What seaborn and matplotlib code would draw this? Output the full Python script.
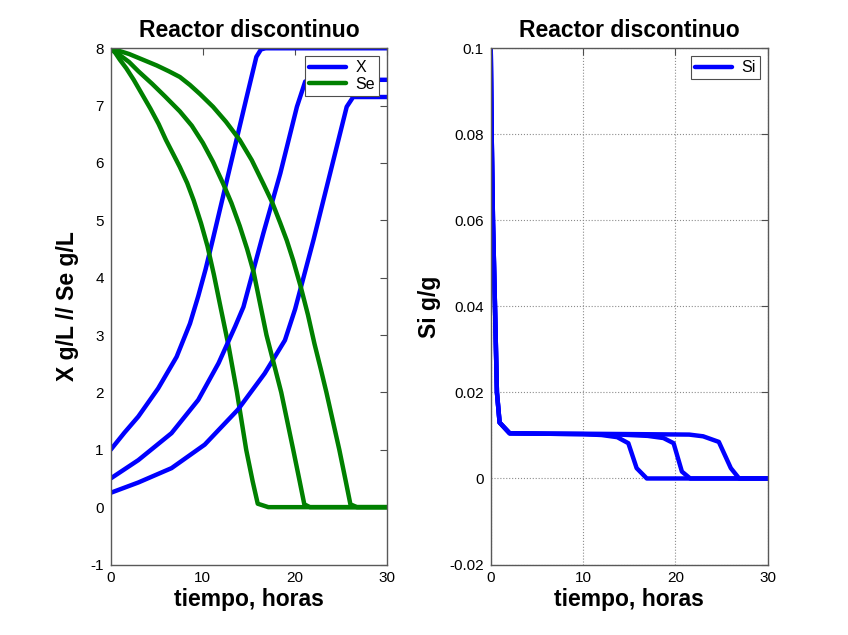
import numpy as np
import pandas as pd
import matplotlib
matplotlib.use('Agg')
import matplotlib.pyplot as plt
import seaborn as sns

sns.set_style('white')
plt.rcParams['font.family'] = ['Liberation Sans', 'DejaVu Sans']
plt.rcParams['text.color'] = 'black'
plt.rcParams['axes.labelcolor'] = 'black'
plt.rcParams['xtick.color'] = 'black'
plt.rcParams['ytick.color'] = 'black'

# biomass X (g/L), three batch runs
t_x1 = [0, 1.5, 3.0, 5.15, 7.15, 8.6, 9.5, 10.3, 11.1, 12.9, 14.75, 15.8, 16.3, 16.8, 30]
x1 = [1.0, 1.3, 1.58, 2.07, 2.62, 3.2, 3.68, 4.15, 4.68, 5.9, 7.15, 7.85, 7.98, 8.0, 8.0]
t_x2 = [0, 3.0, 6.6, 9.5, 11.7, 13.5, 14.4, 16.55, 18.4, 20.2, 21.1, 21.6, 30]
x2 = [0.5, 0.82, 1.29, 1.87, 2.51, 3.15, 3.49, 4.77, 5.82, 6.98, 7.42, 7.45, 7.45]
t_x3 = [0, 3.0, 6.6, 10.2, 13.8, 16.7, 18.9, 20.0, 22.0, 23.8, 25.6, 26.3, 30]
x3 = [0.25, 0.43, 0.68, 1.09, 1.70, 2.33, 2.91, 3.45, 4.66, 5.82, 6.98, 7.15, 7.15]

# substrate Se (g/L)
t_se1 = [0, 0.5, 1.0, 1.7, 2.5, 3.4, 4.3, 5.2, 6.0, 6.8, 7.5, 8.3, 9.0, 9.8,
         10.5, 11.2, 11.9, 12.8, 13.7, 14.7, 15.4, 15.95, 17.1, 30]
se1 = [8.0, 7.92, 7.8, 7.65, 7.45, 7.2, 6.95, 6.68, 6.4, 6.15, 5.93, 5.65, 5.35,
       4.95, 4.55, 4.05, 3.5, 2.8, 2.0, 1.0, 0.45, 0.06, 0.0, 0.0]
t_se2 = [0, 1.0, 2.0, 3.0, 4.5, 5.9, 7.5, 8.8, 10.0, 11.1, 12.2, 13.1, 14.0,
         14.8, 15.5, 16.2, 16.9, 17.7, 18.5, 19.8, 20.5, 21.0, 21.6, 30]
se2 = [8.0, 7.88, 7.76, 7.6, 7.38, 7.16, 6.9, 6.65, 6.35, 6.02, 5.64, 5.3, 4.9,
       4.5, 4.1, 3.55, 3.0, 2.5, 2.0, 1.0, 0.45, 0.05, 0.0, 0.0]
t_se3 = [0, 2.0, 3.5, 5.0, 6.3, 7.5, 8.6, 9.7, 11.1, 12.5, 14.0, 15.3, 16.55,
         17.5, 18.4, 19.1, 19.8, 20.6, 21.4, 22.1, 22.8, 23.4, 24.1, 24.8,
         25.5, 26.0, 26.7, 30]
se3 = [8.0, 7.9, 7.8, 7.7, 7.6, 7.5, 7.36, 7.2, 6.98, 6.72, 6.4, 6.05, 5.64,
       5.32, 4.95, 4.65, 4.3, 3.85, 3.35, 2.85, 2.4, 2.0, 1.5, 1.0,
       0.45, 0.05, 0.0, 0.0]

# intracellular Si (g/g)
t_si1 = [0, 0.1, 0.24, 0.46, 0.67, 0.96, 2.05, 6, 10, 12, 13.7, 14.9, 15.8, 16.9, 30]
si1 = [0.1, 0.08, 0.06, 0.04, 0.02, 0.013, 0.0105, 0.0104, 0.0103, 0.0101,
       0.0096, 0.0082, 0.0024, 0.0, 0.0]
t_si2 = [0, 0.1, 0.24, 0.46, 0.67, 0.96, 2.05, 6, 10, 14, 17, 18.7, 19.8, 20.7, 21.6, 30]
si2 = [0.1, 0.08, 0.06, 0.04, 0.02, 0.013, 0.0105, 0.0104, 0.0103, 0.0102,
       0.0099, 0.0094, 0.0082, 0.0016, 0.0, 0.0]
t_si3 = [0, 0.1, 0.24, 0.46, 0.67, 0.96, 2.05, 6, 10, 16, 21.5, 23.0, 24.7, 26.0, 26.9, 30]
si3 = [0.1, 0.08, 0.06, 0.04, 0.02, 0.013, 0.0105, 0.0104, 0.0104, 0.0103,
       0.0102, 0.0098, 0.0085, 0.0024, 0.0, 0.0]

left_yticks = [-1, 0, 1, 2, 3, 4, 5, 6, 7, 8]
right_yticks = [-0.02, 0, 0.02, 0.04, 0.06, 0.08, 0.1]
right_ylabels = ['-0.02', '0', '0.02', '0.04', '0.06', '0.08', '0.1']
xticks = [0, 10, 20, 30]

BLUE = (0, 0, 1)
GREEN = (0, 0.5, 0)
LW = 3.2
BIG = 16.5

fig = plt.figure(figsize=(8.48, 6.35), dpi=100)
ax1 = fig.add_axes([0.1305, 0.111, 0.3262, 0.813])
ax2 = fig.add_axes([0.5787, 0.111, 0.3267, 0.813])


def curve(ax, t, y, color, label=None):
    sns.lineplot(x=t, y=y, ax=ax, color=color, lw=LW, sort=False,
                 estimator=None, label=label, legend=False)


curve(ax1, t_x1, x1, BLUE, 'X')
curve(ax1, t_se1, se1, GREEN, 'Se')
curve(ax1, t_x2, x2, BLUE)
curve(ax1, t_x3, x3, BLUE)
curve(ax1, t_se2, se2, GREEN)
curve(ax1, t_se3, se3, GREEN)

curve(ax2, t_si1, si1, BLUE, 'Si')
curve(ax2, t_si2, si2, BLUE)
curve(ax2, t_si3, si3, BLUE)

for ax in (ax1, ax2):
    ax.set_xlim(0, 30)
    ax.set_xticks(xticks)
    ax.set_xticklabels([str(v) for v in xticks])
    ax.tick_params(direction='in', top=True, right=True, length=5,
                   labelsize=11, pad=5)
    ax.tick_params(color='0.3')
    for s in ax.spines.values():
        s.set_color('0.35')
        s.set_linewidth(1)
    ax.set_title('Reactor discontinuo', fontsize=BIG, fontweight='bold', pad=8)
    ax.set_xlabel('tiempo, horas', fontsize=BIG, fontweight='bold', labelpad=2)

ax1.set_ylim(-1, 8)
ax1.set_yticks(left_yticks)
ax1.set_yticklabels([str(v) for v in left_yticks])
ax1.set_ylabel('X g/L // Se g/L', fontsize=BIG, fontweight='bold', labelpad=8)

ax2.set_ylim(-0.02, 0.1)
ax2.set_yticks(right_yticks)
ax2.set_yticklabels(right_ylabels)
ax2.set_ylabel('Si g/g', fontsize=BIG, fontweight='bold', labelpad=6)
ax2.grid(True, linestyle=':', color='0.55', linewidth=0.8)

for ax in (ax1, ax2):
    leg = ax.legend(loc='upper right', fontsize=11.5, fancybox=False,
                    framealpha=1, edgecolor='0.3', handlelength=2.3,
                    borderaxespad=0.5, borderpad=0.25, labelspacing=0.1,
                    handletextpad=0.6)
    leg.get_frame().set_linewidth(0.8)

fig.savefig('out.png', dpi=100)
